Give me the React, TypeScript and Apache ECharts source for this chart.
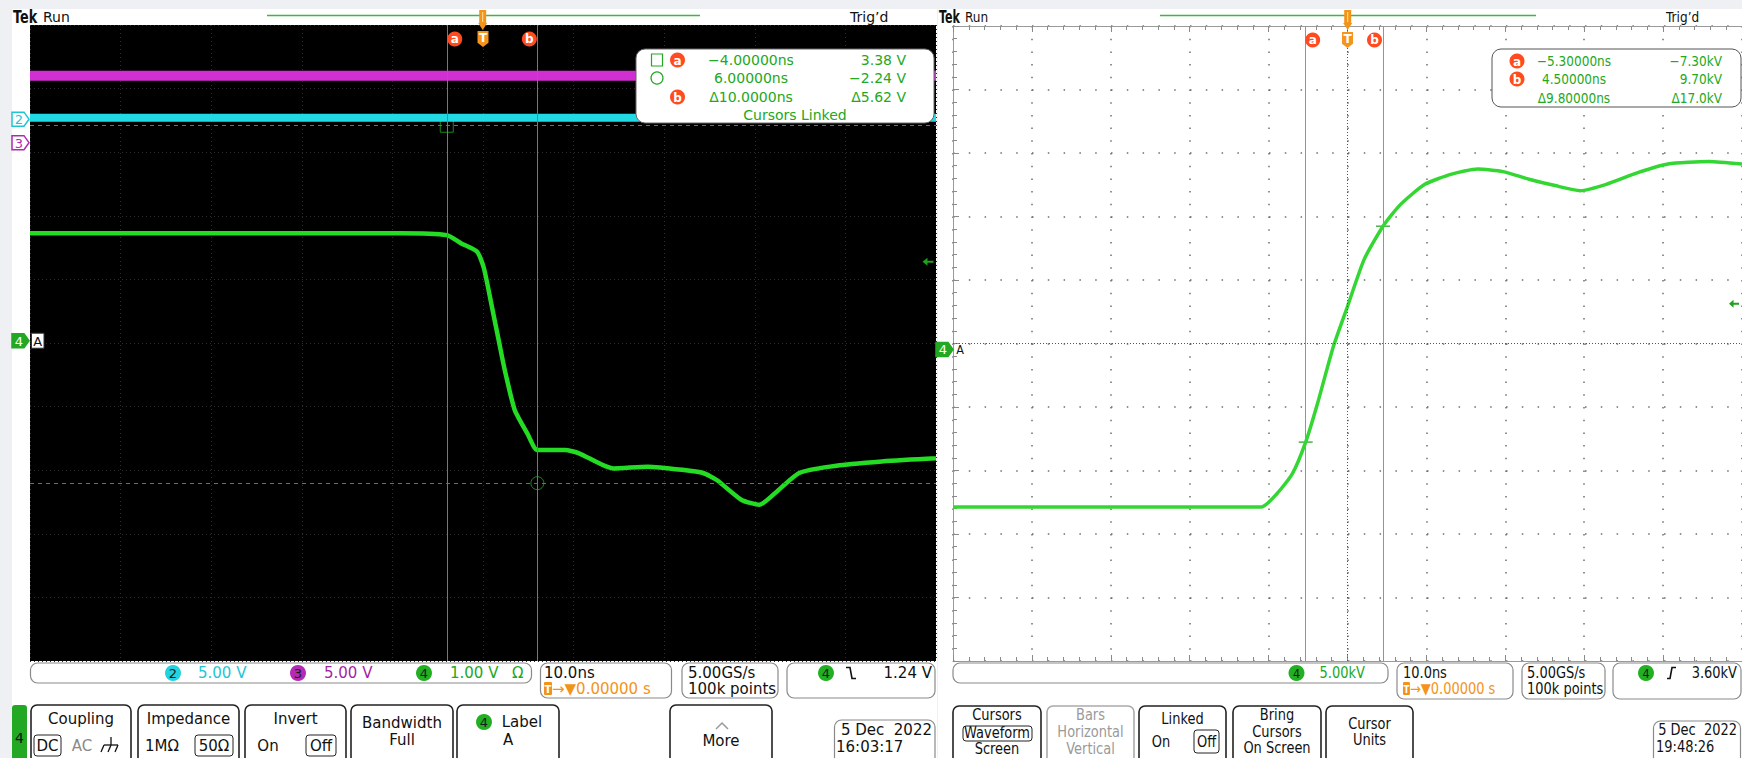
import React, { useEffect, useRef } from "react";
import * as echarts from "echarts";

const FONT = "'DejaVu Sans', 'Liberation Sans', sans-serif";

// ---------- Left capture: CH4 "A" 1.00 V/div, CH2/CH3 5.00 V/div, 10.0 ns/div ----------
const L_T = [-50, -9.2, -4, -2.4, -0.65, 0.1, 1.06, 1.8, 2.4, 3.5, 4.9, 6, 9.05, 10.6, 14.4, 18.2, 22, 24.3, 25.8, 28.5, 30.5, 32.6, 34.9, 38.3, 44, 50];
const L_CH4 = [1.69, 1.69, 1.66, 1.53, 1.4, 1.14, 0.48, -0.04, -0.46, -1.09, -1.46, -1.72, -1.72, -1.77, -2.01, -1.98, -2.03, -2.08, -2.19, -2.5, -2.58, -2.35, -2.08, -1.98, -1.9, -1.85];
const L_CH2_T = [-50, 50];
const L_CH2 = [0.1, 0.1];
const L_CH3_T = [-50, 50];
const L_CH3 = [5.27, 5.27];
const L_CURSOR_T = [-4, 6];
const L_CURSOR_V = [3.38, -2.24];
const L_TRIG = 1.24;

// ---------- Right capture: CH4 "A" 5.00 kV/div, 10.0 ns/div ----------
const R_T = [-50, -10.9, -9.0, -7.0, -5.3, -3.8, -1.8, 0, 2.1, 4.5, 6.7, 9.8, 13.2, 16.5, 19.7, 23.0, 26.3, 29.5, 32.8, 36.7, 40.6, 45.8, 50];
const R_KV = [-12.4, -12.4, -11.4, -9.8, -7.3, -4.26, 0.21, 3.38, 7.07, 9.7, 11.4, 13.0, 13.8, 14.2, 14.0, 13.4, 12.9, 12.5, 13.0, 13.9, 14.6, 14.8, 14.6];
const R_CURSOR_T = [-5.3, 4.5];
const R_CURSOR_KV = [-7.3, 9.7];
const R_TRIG = 3.6;

// vertical scale (units/div) and position (divisions above centre)
const L_VDIV = { ch2: 5, ch3: 5, ch4: 1 };
const L_POS = { ch2: 3.52, ch3: 3.15, ch4: 0.036 };
const R_VDIV = 5;
const R_POS = -0.093;

// readout texts
const L_READ_TIME = ["−4.00000ns", "6.00000ns", "Δ10.0000ns"];
const L_READ_VAL = ["3.38 V", "−2.24 V", "Δ5.62 V"];
const R_READ_TIME = ["−5.30000ns", "4.50000ns", "Δ9.80000ns"];
const R_READ_VAL = ["−7.30kV", "9.70kV", "Δ17.0kV"];

const LG = { left: 30, top: 25, width: 906, height: 636 };
const RG = { left: 953, top: 26, width: 790, height: 635 };

const G = "#22a822";
const CYAN = "#1ec6d4";
const MAG = "#a51fa5";
const ORANGE = "#f39419";
const BADGE = "#ff4b1f";
const RS = 0.866;

const range = (vdiv: number, pos: number) => [(-5 - pos) * vdiv, (5 - pos) * vdiv];
const [L4MIN, L4MAX] = range(L_VDIV.ch4, L_POS.ch4);
const [L2MIN, L2MAX] = range(L_VDIV.ch2, L_POS.ch2);
const [L3MIN, L3MAX] = range(L_VDIV.ch3, L_POS.ch3);
const [R4MIN, R4MAX] = range(R_VDIV, R_POS);
const zip = (a: number[], b: number[]) => a.map((x, i) => [x, b[i]]);
const yPix = (g: any, min: number, max: number, v: number) => g.top + (g.height * (max - v)) / (max - min);

type TO = { size?: number; color?: string; align?: string; weight?: string; sx?: number };
function txt(x: number, y: number, text: string, o: TO = {}) {
  const el: any = {
    type: "text",
    x,
    y,
    z: 100,
    style: {
      text,
      fill: o.color ?? "#111",
      font: `${o.weight ?? "normal"} ${o.size ?? 15}px ${FONT}`,
      textAlign: o.align ?? "left",
      align: o.align ?? "left",
      textVerticalAlign: "middle",
      verticalAlign: "middle",
    },
  };
  if (o.sx) el.scaleX = o.sx;
  return el;
}
function rect(x: number, y: number, w: number, h: number, o: any = {}) {
  return {
    type: "rect",
    z: 100,
    shape: { x, y, width: w, height: h, r: o.r ?? 0 },
    style: { fill: o.fill ?? "#fff", stroke: o.stroke ?? "#222", lineWidth: o.lw ?? 1 },
  };
}
function circ(cx: number, cy: number, r: number, fill: string, stroke?: string) {
  return { type: "circle", z: 100, shape: { cx, cy, r }, style: { fill, stroke: stroke ?? null, lineWidth: 1.2 } };
}
function pl(points: number[][], stroke: string, lw = 1.3) {
  return { type: "polyline", z: 100, shape: { points }, style: { stroke, lineWidth: lw, fill: "none" } };
}
function badge(cx: number, cy: number, letter: string) {
  return [circ(cx, cy, 7.5, BADGE), txt(cx, cy + 0.5, letter, { size: 12, weight: "bold", color: "#fff", align: "center" })];
}
function chanCircle(cx: number, cy: number, n: string, fill: string, sx?: number) {
  return [circ(cx, cy, 8, fill), txt(cx, cy + 0.5, n, { size: 13, color: "#1a1a1a", align: "center", sx })];
}
function chanMarker(x0: number, cy: number, n: string, color: string, filled: boolean) {
  return [
    {
      type: "polygon",
      z: 100,
      shape: { points: [[x0, cy - 7], [x0 + 12, cy - 7], [x0 + 17, cy], [x0 + 12, cy + 7], [x0, cy + 7]] },
      style: { fill: filled ? color : "#fff", stroke: color, lineWidth: 1.5 },
    },
    txt(x0 + 7, cy + 0.5, n, { size: 13, color: filled ? "#fff" : color, align: "center" }),
  ];
}
function trigHeader(x: number) {
  return [
    rect(x - 3.5, 10, 7, 13, { fill: ORANGE, stroke: "none", lw: 0 }),
    { type: "line", z: 100, shape: { x1: x, y1: 12, x2: x, y2: 22 }, style: { stroke: "#ffe0a0", lineWidth: 1 } },
    { type: "polygon", z: 100, shape: { points: [[x - 4.5, 23], [x + 4.5, 23], [x, 30]] }, style: { fill: ORANGE } },
  ];
}
function header(x0: number, lineX1: number, lineX2: number, trigX: number, trigdX: number, sx: number) {
  return [
    txt(x0, 17, "Tek", { size: 18, weight: "bold", sx: 0.71 * sx, color: "#111" }),
    txt(x0 + 30 * sx, 17, "Run", { size: 14, sx }),
    { type: "line", z: 100, shape: { x1: lineX1, y1: 15.5, x2: lineX2, y2: 15.5 }, style: { stroke: "#3cb83c", lineWidth: 1.5 } },
    ...trigHeader(trigX),
    txt(trigdX, 17, "Trig’d", { size: 14, sx }),
  ];
}
function button(x: number, w: number, lines: string[], ys: number[], o: any = {}) {
  const cx = x + w / 2;
  return [
    rect(x, o.y ?? 705, w, 70, { r: 6, stroke: o.stroke ?? "#222", lw: 1.6 }),
    ...lines.map((l, i) => txt(cx, ys[i], l, { size: 15, align: "center", color: o.color ?? "#111", sx: o.sx })),
  ];
}
function statusBox(x: number, y: number, w: number, h: number) {
  return rect(x, y, w, h, { r: 7, stroke: "#8a8a8a", lw: 1.2 });
}
function timebase(x: number, sx?: number) {
  const s = sx ?? 1;
  return [
    txt(x, 673, "10.0ns", { size: 15, sx }),
    rect(x, 682, 8 * s, 13, { fill: ORANGE, stroke: "none", lw: 0, r: 1 }),
    txt(x + 4 * s, 689, "T", { size: 10, color: "#fff", align: "center", weight: "bold", sx }),
    txt(x + 8 * s, 689, "→▼0.00000 s", { size: 15, color: ORANGE, sx }),
  ];
}

function buildGraphic() {
  const gr: any[] = [];
  // headers
  gr.push(...header(13, 267, 700, 482.7, 850, 1));
  gr.push(...header(939, 1160, 1536, 1347.7, 1666, RS));

  // left readout
  gr.push(rect(636, 49, 298, 74, { r: 9, stroke: "#666" }));
  const lRows = [60, 78, 97];
  gr.push(rect(651.5, 54, 11, 12, { fill: "none", stroke: G, lw: 1.2 }));
  gr.push(circ(657, 78, 6, "none", G));
  gr.push(...badge(677.5, 60, "a"), ...badge(677.5, 97, "b"));
  lRows.forEach((y, i) => {
    gr.push(txt(751, y, L_READ_TIME[i], { size: 14, color: G, align: "center" }));
    gr.push(txt(906, y, L_READ_VAL[i], { size: 14, color: G, align: "right" }));
  });
  gr.push(txt(795, 115, "Cursors Linked", { size: 14, color: G, align: "center" }));

  // right readout
  gr.push(rect(1492, 49, 249, 58, { r: 9, stroke: "#555" }));
  const rRows = [61, 79, 98];
  gr.push(...badge(1517, 61, "a"), ...badge(1517, 79, "b"));
  rRows.forEach((y, i) => {
    gr.push(txt(1574, y, R_READ_TIME[i], { size: 14, color: G, align: "center", sx: RS }));
    gr.push(txt(1722, y, R_READ_VAL[i], { size: 14, color: G, align: "right", sx: RS }));
  });

  // channel markers (left)
  gr.push(...chanMarker(12, yPix(LG, L2MIN, L2MAX, 0), "2", CYAN, false));
  gr.push(...chanMarker(12, yPix(LG, L3MIN, L3MAX, 0), "3", "#b02ab0", false));
  const l4 = yPix(LG, L4MIN, L4MAX, 0);
  gr.push(...chanMarker(12, l4, "4", "#22a822", true));
  gr.push(rect(31.5, l4 - 7.5, 12.5, 15, { fill: "#fff", stroke: "#333", lw: 1 }));
  gr.push(txt(37.8, l4 + 0.5, "A", { size: 13, align: "center" }));
  // channel marker (right)
  const r4 = yPix(RG, R4MIN, R4MAX, 0);
  gr.push(...chanMarker(936, r4, "4", "#22a822", true));
  gr.push(txt(960, r4 + 0.5, "A", { size: 13, align: "center", sx: RS }));

  // left status row
  gr.push(statusBox(30.5, 663, 501, 20));
  gr.push(...chanCircle(173, 673, "2", "#22d2e0"), txt(198, 673, "5.00 V", { color: CYAN }));
  gr.push(...chanCircle(298, 673, "3", "#b42ab4"), txt(324, 673, "5.00 V", { color: MAG }));
  gr.push(...chanCircle(424, 673, "4", "#22b022"), txt(450, 673, "1.00 V", { color: G }), txt(512, 673, "Ω", { color: G }));
  gr.push(statusBox(540.5, 663, 131, 35), ...timebase(544));
  gr.push(statusBox(682, 663, 96, 35), txt(688, 673, "5.00GS/s"), txt(688, 689, "100k points"));
  gr.push(statusBox(787, 663, 148, 35), ...chanCircle(826, 673, "4", "#22b022"));
  gr.push(pl([[846, 667.5], [850, 667.5], [852, 678.5], [856, 678.5]], "#111", 1.6));
  gr.push(txt(932, 673, "1.24 V", { align: "right" }));

  // right status row
  gr.push(statusBox(953, 663, 435, 20));
  gr.push(...chanCircle(1296.5, 673, "4", "#22b022", RS), txt(1319.5, 673, "5.00kV", { color: G, sx: RS }));
  gr.push(statusBox(1397, 663, 116, 36), ...timebase(1403, RS));
  gr.push(statusBox(1522, 663, 83, 36), txt(1527, 673, "5.00GS/s", { sx: RS }), txt(1527, 689, "100k points", { sx: RS }));
  gr.push(statusBox(1613, 663, 128, 36), ...chanCircle(1646, 673, "4", "#22b022", RS));
  gr.push(pl([[1667, 678.5], [1670, 678.5], [1672, 667.5], [1676, 667.5]], "#111", 1.6));
  gr.push(txt(1737, 673, "3.60kV", { align: "right", sx: RS }));

  // left menu
  gr.push(rect(12, 705, 15, 70, { fill: "#22a822", stroke: "none", lw: 0, r: 3 }), txt(19.5, 738, "4", { size: 14, color: "#111" , align: "center"}));
  gr.push(...button(31, 100, ["Coupling"], [719]));
  gr.push(rect(34, 735, 27, 21, { r: 3, lw: 1 }), txt(47.5, 746, "DC", { align: "center" }), txt(82, 746, "AC", { align: "center", color: "#8a8a8a" }));
  gr.push(pl([[111, 737], [111, 745]], "#111"), pl([[104, 745], [118, 745]], "#111"));
  gr.push(pl([[104, 745], [101, 752]], "#111"), pl([[111, 745], [108, 752]], "#111"), pl([[118, 745], [115, 752]], "#111"));
  gr.push(...button(138, 101, ["Impedance"], [719]));
  gr.push(txt(162, 746, "1MΩ", { align: "center" }), rect(195, 735, 38, 21, { r: 3, lw: 1 }), txt(214, 746, "50Ω", { align: "center" }));
  gr.push(...button(245, 101, ["Invert"], [719]));
  gr.push(txt(268, 746, "On", { align: "center" }), rect(306, 735, 30, 21, { r: 3, lw: 1 }), txt(321, 746, "Off", { align: "center" }));
  gr.push(...button(351, 102, ["Bandwidth", "Full"], [723, 740]));
  gr.push(...button(457, 102, [], []), ...chanCircle(484, 722, "4", "#22b022"), txt(522, 722, "Label", { align: "center" }), txt(508, 740, "A", { align: "center" }));
  gr.push(...button(670, 102, ["More"], [741]));
  gr.push(pl([[716, 729], [722, 723], [728, 729]], "#9a9a9a", 1.5));
  gr.push(rect(834.5, 720, 100.5, 45, { r: 7, stroke: "#8a8a8a", lw: 1.2 }), txt(932, 730, "5 Dec  2022", { align: "right" }), txt(836, 747, "16:03:17"));

  // right menu
  gr.push(...button(953, 88, ["Cursors", "Waveform", "Screen"], [715, 733, 749], { y: 706, sx: RS }));
  gr.push(rect(963, 726, 69, 15, { r: 3, lw: 1, fill: "none" }));
  gr.push(...button(1047, 87, ["Bars", "Horizontal", "Vertical"], [715, 732, 749], { y: 706, sx: RS, stroke: "#aaa", color: "#9a9a9a" }));
  gr.push(...button(1139, 87, ["Linked"], [719], { y: 706, sx: RS }));
  gr.push(txt(1161, 742, "On", { align: "center", sx: RS }), rect(1194, 730, 25, 23, { r: 3, lw: 1 }), txt(1206.5, 742, "Off", { align: "center", sx: RS }));
  gr.push(...button(1233, 88, ["Bring", "Cursors", "On Screen"], [715, 732, 748], { y: 706, sx: RS }));
  gr.push(...button(1326, 87, ["Cursor", "Units"], [724, 740], { y: 706, sx: RS }));
  gr.push(rect(1653.5, 721, 87, 45, { r: 7, stroke: "#8a8a8a", lw: 1.2 }), txt(1737, 730, "5 Dec  2022", { align: "right", sx: RS }), txt(1656, 747, "19:48:26", { sx: RS }));
  return gr;
}

const T_PATH = "path://M0 0H10V11L5 15L0 11Z";
const ARROW_PATH = "path://M0 4L5 0V3H11V5H5V8Z";

function topMarks(cursors: number[], yTop: number, dA: number, dB: number) {
  return [
    { coord: [cursors[0], yTop], symbol: "circle", symbolSize: 15, symbolOffset: [dA, 14], itemStyle: { color: BADGE }, label: { formatter: "a" } },
    { coord: [0, yTop], symbol: T_PATH, symbolSize: [11, 16], symbolOffset: [0, 14], itemStyle: { color: "#f7941d" }, label: { formatter: "T", offset: [0, -1] } },
    { coord: [cursors[1], yTop], symbol: "circle", symbolSize: 15, symbolOffset: [dB, 14], itemStyle: { color: BADGE }, label: { formatter: "b" } },
  ];
}

function buildOption(): any {
  const markLabel = { show: true, position: "inside", color: "#fff", fontSize: 12, fontWeight: "bold", fontFamily: FONT };
  const hiddenY = (gridIndex: number, min: number, max: number) => ({ type: "value", gridIndex, min, max, show: false });
  const tickAxis = {
    axisLine: { show: true, onZero: false, lineStyle: { color: "#9a9a9a", width: 1 } },
    axisTick: { show: true, inside: true, length: 6, lineStyle: { color: "#8a8a8a" } },
    minorTick: { show: true, splitNumber: 5, length: 4, lineStyle: { color: "#8a8a8a" } },
    axisLabel: { show: false },
  };
  return {
    animation: false,
    backgroundColor: "transparent",
    grid: [
      { ...LG, show: true, backgroundColor: "#000", borderWidth: 0, containLabel: false },
      { ...RG, show: true, backgroundColor: "#fff", borderWidth: 0, containLabel: false },
    ],
    xAxis: [
      {
        type: "value", gridIndex: 0, min: -50, max: 50, interval: 10,
        axisLine: { show: false, onZero: false }, axisTick: { show: false }, axisLabel: { show: false },
        splitLine: { show: true, lineStyle: { color: "#2c2c2c", type: [1, 3], width: 1 } },
      },
      {
        type: "value", gridIndex: 1, min: -50, max: 50, interval: 10, position: "bottom", ...tickAxis,
        splitLine: { show: true, lineStyle: { color: "#6e6e6e", type: [1.5, 11.2], width: 1.5 } },
      },
      { type: "value", gridIndex: 1, min: -5, max: 5, interval: 1, position: "top", ...tickAxis, splitLine: { show: false } },
    ],
    yAxis: [
      hiddenY(0, L4MIN, L4MAX),
      hiddenY(0, L2MIN, L2MAX),
      hiddenY(0, L3MIN, L3MAX),
      {
        type: "value", gridIndex: 0, min: -5, max: 5, interval: 1,
        axisLine: { show: false, onZero: false }, axisTick: { show: false }, axisLabel: { show: false },
        splitLine: { show: true, lineStyle: { color: "#2c2c2c", type: [1, 3], width: 1 } },
      },
      hiddenY(1, R4MIN, R4MAX),
      {
        type: "value", gridIndex: 1, min: -5, max: 5, interval: 1, position: "left", ...tickAxis,
        splitLine: { show: true, lineStyle: { color: "#6e6e6e", type: [1.5, 14.3], width: 1.5 } },
      },
    ],
    series: [
      { name: "CH3", type: "line", xAxisIndex: 0, yAxisIndex: 2, data: zip(L_CH3_T, L_CH3), showSymbol: false, silent: true, lineStyle: { color: "#d22fd2", width: 10 } },
      { name: "CH2", type: "line", xAxisIndex: 0, yAxisIndex: 1, data: zip(L_CH2_T, L_CH2), showSymbol: false, silent: true, lineStyle: { color: "#22dae4", width: 8 } },
      {
        name: "CH4 A", type: "line", xAxisIndex: 0, yAxisIndex: 0, data: zip(L_T, L_CH4), showSymbol: false, silent: true, smooth: 0.2,
        lineStyle: { color: "#25dc25", width: 4.5 },
        markLine: {
          silent: true, symbol: "none", label: { show: false }, animation: false,
          lineStyle: { color: "#22b422", width: 1, type: "solid" },
          data: [
            { xAxis: L_CURSOR_T[0] },
            { xAxis: L_CURSOR_T[1] },
            { yAxis: L_CURSOR_V[0], lineStyle: { type: [4, 4], color: "#2a9e2a" } },
            { yAxis: L_CURSOR_V[1], lineStyle: { type: [4, 4], color: "#2a9e2a" } },
          ],
        },
        markPoint: {
          silent: true, animation: false, label: markLabel,
          data: [
            ...topMarks(L_CURSOR_T, L4MAX, 8, -8),
            { coord: [50, L_TRIG], symbol: ARROW_PATH, symbolSize: [11, 8], symbolOffset: [-8, 0], itemStyle: { color: "#1fa01f" }, label: { show: false } },
          ],
        },
      },
      {
        name: "H-bar markers", type: "scatter", xAxisIndex: 0, yAxisIndex: 0, silent: true, symbolSize: 13,
        itemStyle: { color: "transparent", borderColor: "#22a822", borderWidth: 1 },
        data: [
          { value: [L_CURSOR_T[0], L_CURSOR_V[0]], symbol: "rect" },
          { value: [L_CURSOR_T[1], L_CURSOR_V[1]], symbol: "circle" },
        ],
      },
      {
        name: "centre", type: "line", xAxisIndex: 2, yAxisIndex: 5, data: [[0, 0]], showSymbol: false, silent: true,
        lineStyle: { opacity: 0 },
        markLine: { silent: true, symbol: "none", label: { show: false }, lineStyle: { color: "#555", type: [1, 2], width: 1 }, data: [{ xAxis: 0 }, { yAxis: 0 }] },
      },
      {
        name: "CH4 A kV", type: "line", xAxisIndex: 1, yAxisIndex: 4, data: zip(R_T, R_KV), showSymbol: false, silent: true, smooth: 0.2,
        lineStyle: { color: "#33d633", width: 3.5 },
        markLine: {
          silent: true, symbol: "none", label: { show: false },
          lineStyle: { color: "#4cc64c", width: 1, type: "solid" },
          data: [{ xAxis: R_CURSOR_T[0] }, { xAxis: R_CURSOR_T[1] }],
        },
        markPoint: {
          silent: true, label: markLabel,
          data: [
            ...topMarks(R_CURSOR_T, R4MAX, 7, -8.5),
            { coord: [50, R_TRIG], symbol: ARROW_PATH, symbolSize: [10, 8], symbolOffset: [-8, 0], itemStyle: { color: "#1fa01f" }, label: { show: false } },
          ],
        },
      },
      {
        name: "cursor hits", type: "scatter", xAxisIndex: 1, yAxisIndex: 4, silent: true, symbol: "rect", symbolSize: [14, 1.5],
        itemStyle: { color: "#1e9e1e" }, data: zip(R_CURSOR_T, R_CURSOR_KV),
      },
    ],
    graphic: { elements: buildGraphic() },
  };
}

export default function App() {
  const ref = useRef<HTMLDivElement>(null);
  useEffect(() => {
    const chart = echarts.init(ref.current!, null, { renderer: "svg" });
    chart.setOption(buildOption());
    return () => chart.dispose();
  }, []);
  return (
    <div style={{ position: "fixed", left: 0, top: 0, width: 1742, height: 758, background: "#eef0f3", overflow: "hidden" }}>
      <div style={{ position: "absolute", left: 12, top: 9, width: 925, height: 749, background: "#fff" }} />
      <div style={{ position: "absolute", left: 938, top: 9, width: 804, height: 749, background: "#fff" }} />
      <div ref={ref} style={{ position: "absolute", left: 0, top: 0, width: 1742, height: 758 }} />
    </div>
  );
}
